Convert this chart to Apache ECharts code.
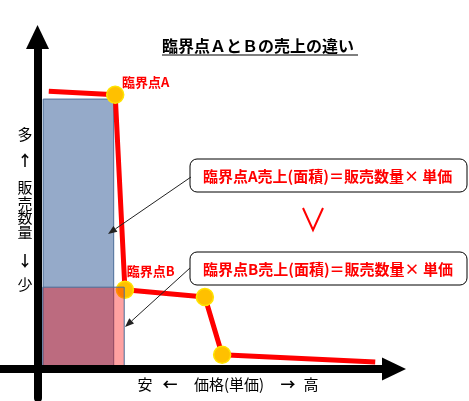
<!DOCTYPE html>
<html>
<head>
<meta charset="utf-8">
<script src="https://cdn.jsdelivr.net/npm/echarts@6/dist/echarts.min.js"></script>
<style>
html, body { margin: 0; padding: 0; background: #fff; }
#chart { width: 469px; height: 401px; }
</style>
</head>
<body>
<div id="chart"></div>
<script>
// demand curve: price (x) vs sales quantity (y)
const priceX = [3, 20.7, 23.3, 44.6, 49.2, 90];
const salesY = [77, 76, 22, 20, 4, 2];
const pointIdx = [1, 2, 3, 4];
const pointNames = ['臨界点A', '臨界点B', '', ''];
// sales areas [x0, y0, x1, y1]
const areaA = [1.5, 0.5, 20.3, 74.8];
const areaB = [1.4, 0.5, 23.1, 22.7];

const titleText = '臨界点ＡとＢの売上の違い';
const boxTexts = ['臨界点A売上(面積)＝販売数量× 単価', '臨界点B売上(面積)＝販売数量× 単価'];
const yLabelChars = ['多', '↑', '販', '売', '数', '量', '↓', '少'];
const xLabelParts = ['安', '←', '価格(単価)', '→', '高'];

const FONT = '"Noto Sans CJK JP", "Noto Sans", sans-serif';

const chart = echarts.init(document.getElementById('chart'));

function rectSeries(rect, color, z) {
    return {
        type: 'custom',
        z: z,
        silent: true,
        data: [rect],
        renderItem: function (params, api) {
            const p0 = api.coord([api.value(0), api.value(3)]);
            const p1 = api.coord([api.value(2), api.value(1)]);
            return {
                type: 'rect',
                shape: { x: p0[0], y: p0[1], width: p1[0] - p0[0], height: p1[1] - p0[1] },
                style: { fill: color, stroke: '#4A6D98', lineWidth: 1 }
            };
        }
    };
}

function arrow(x1, y1, x2, y2) {
    const dx = x2 - x1, dy = y2 - y1, len = Math.hypot(dx, dy);
    const ux = dx / len, uy = dy / len, h = 9, w = 3.5;
    const bx = x2 - ux * h, by = y2 - uy * h;
    return [
        { type: 'line', z: 100, shape: { x1: x1, y1: y1, x2: bx, y2: by }, style: { stroke: '#222', lineWidth: 1 } },
        { type: 'polygon', z: 100, shape: { points: [[x2, y2], [bx - uy * w, by + ux * w], [bx + uy * w, by - ux * w]] }, style: { fill: '#222' } }
    ];
}

function box(y, text) {
    return [
        { type: 'rect', z: 100, shape: { x: 190, y: y, width: 277, height: 33, r: 7 }, style: { fill: '#fff', stroke: '#000', lineWidth: 1 } },
        { type: 'text', z: 101, x: 203, y: y + 17, style: { text: text, font: 'bold 15px ' + FONT, fill: '#f00', verticalAlign: 'middle' } }
    ];
}

const yLabelPos = [134, 160, 187, 203, 217, 232, 260, 284];
const xLabelPos = [145, 170, 229, 288, 311];

let graphics = [];
graphics = graphics.concat(box(159, boxTexts[0]), box(252, boxTexts[1]));
graphics = graphics.concat(arrow(191, 177, 108, 234), arrow(190, 268, 125, 327));
graphics.push({ type: 'polyline', z: 100, shape: { points: [[303, 208], [313, 230], [323, 208]] }, style: { stroke: '#f00', lineWidth: 2, fill: null } });
graphics.push({ type: 'line', z: 100, shape: { x1: 162, y1: 55, x2: 358, y2: 55 }, style: { stroke: '#000', lineWidth: 1.2 } });
yLabelChars.forEach(function (c, i) {
    const bold = (c === '↑' || c === '↓') ? 'bold ' : '';
    graphics.push({ type: 'text', z: 100, x: 25, y: yLabelPos[i], style: { text: c, font: bold + '15px ' + FONT, fill: '#000', align: 'center', verticalAlign: 'middle' } });
});
xLabelParts.forEach(function (c, i) {
    const bold = (c === '←' || c === '→') ? 'bold ' : '';
    graphics.push({ type: 'text', z: 100, x: xLabelPos[i], y: 384, style: { text: c, font: bold + '15px ' + FONT, fill: '#000', align: 'center', verticalAlign: 'middle' } });
});

const axisCommon = {
    type: 'value',
    z: 10,
    axisLabel: { show: false },
    axisTick: { show: false },
    splitLine: { show: false },
    axisLine: {
        show: true,
        onZero: true,
        symbol: ['none', 'triangle'],
        symbolSize: [23, 24],
        lineStyle: { color: '#000', width: 8 }
    }
};

const labelPos = [[16, -3], [11, -9]];

const options = {
    backgroundColor: '#fff',
    animation: false,
    title: {
        text: titleText,
        left: 162,
        top: 38,
        padding: 0,
        textStyle: { fontFamily: FONT, fontSize: 16, fontWeight: 'bold', color: '#000' }
    },
    grid: { left: 0, right: 75, top: 37, bottom: 3, containLabel: false },
    xAxis: Object.assign({}, axisCommon, { min: -10, max: 95 }),
    yAxis: Object.assign({}, axisCommon, { min: -8, max: 92 }),
    series: [
        rectSeries(areaA, '#95AAC9', 1),
        {
            type: 'line',
            z: 3,
            silent: true,
            symbol: 'none',
            data: priceX.map(function (x, i) { return [x, salesY[i]]; }),
            lineStyle: { color: '#FF0000', width: 5 }
        },
        {
            type: 'scatter',
            z: 4,
            silent: true,
            symbolSize: 17,
            data: pointIdx.map(function (i, k) {
                const item = { value: [priceX[i], salesY[i]], name: pointNames[k] };
                if (labelPos[k]) {
                    item.label = { position: labelPos[k] };
                }
                return item;
            }),
            itemStyle: { color: '#FFC000', borderColor: '#FFE400', borderWidth: 1.5, opacity: 1 },
            label: {
                show: true,
                formatter: '{b}',
                color: '#FF0000',
                fontFamily: FONT,
                fontWeight: 'bold',
                fontSize: 13,
                align: 'left',
                verticalAlign: 'middle'
            }
        },
        rectSeries(areaB, 'rgba(255,0,0,0.37)', 5)
    ],
    graphic: graphics
};

chart.setOption(options);
</script>
</body>
</html>
